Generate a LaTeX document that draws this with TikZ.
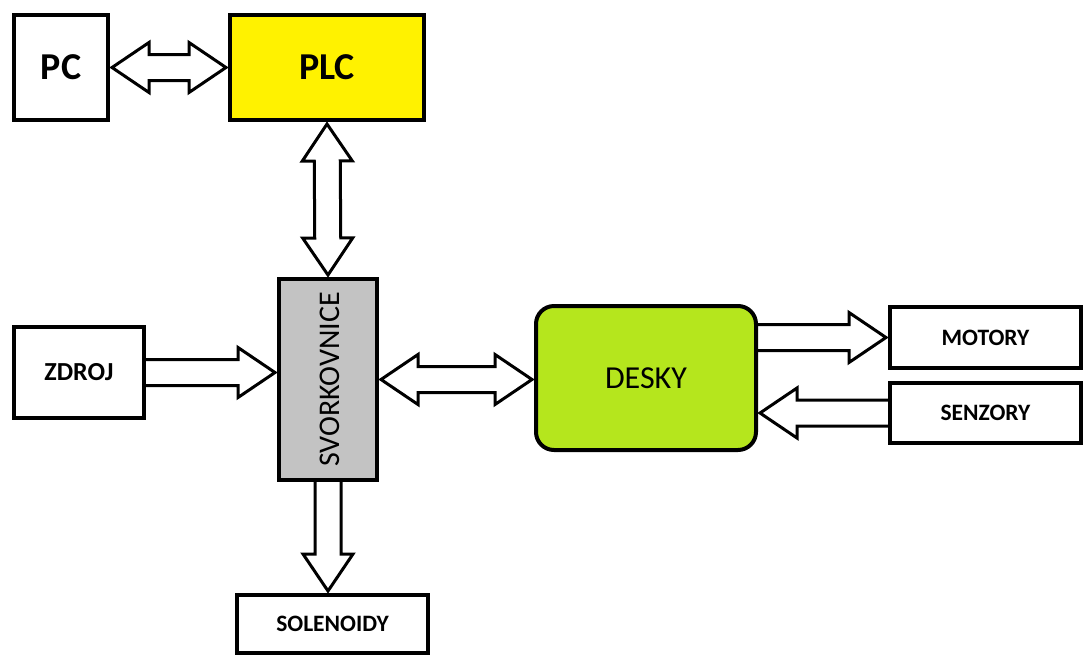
\documentclass[tikz,border=0pt]{standalone}
\usepackage{fontspec}
\setmainfont{Carlito}
\usetikzlibrary{calc}

\definecolor{plcyellow}{HTML}{FFF200}
\definecolor{svgrey}{HTML}{C3C3C3}
\definecolor{deskgreen}{HTML}{B5E61D}

\tikzset{
  box/.style={draw, line width=4pt, inner sep=0pt, fill=white},
  blk/.style={draw, line width=3pt, line join=miter},
}

% block arrow, one head (tip at #2)
\newcommand{\blkone}[2]{%
  \coordinate (ba) at (#1);
  \coordinate (bb) at ($(#2)!2pt!(#1)$);
  \coordinate (bc) at ($(bb)!37pt!(ba)$);
  \draw[blk] ($(ba)!13pt!90:(bb)$) -- ($(bc)!13pt!90:(bb)$) -- ($(bc)!25pt!90:(bb)$) -- (bb)
     -- ($(bc)!25pt!-90:(bb)$) -- ($(bc)!13pt!-90:(bb)$) -- ($(ba)!13pt!-90:(bb)$);
}
% block arrow, two heads
\newcommand{\blktwo}[2]{%
  \coordinate (ba) at ($(#1)!2pt!(#2)$);
  \coordinate (bb) at ($(#2)!2pt!(#1)$);
  \coordinate (bc) at ($(ba)!37pt!(bb)$);
  \coordinate (bd) at ($(bb)!37pt!(ba)$);
  \draw[blk] (ba) -- ($(bc)!25pt!90:(bb)$) -- ($(bc)!13pt!90:(bb)$) -- ($(bd)!13pt!90:(bb)$)
     -- ($(bd)!25pt!90:(bb)$) -- (bb) -- ($(bd)!25pt!-90:(bb)$) -- ($(bd)!13pt!-90:(bb)$)
     -- ($(bc)!13pt!-90:(bb)$) -- ($(bc)!25pt!-90:(bb)$) -- cycle;
}

\begin{document}
\begin{tikzpicture}[x=1pt,y=-1pt]
\useasboundingbox (0,0) rectangle (1085,657);

% blocks
\node[box, minimum width=94pt, minimum height=105pt, font=\bfseries\fontsize{38}{38}\selectfont] (pc) at (61,67.5) {PC};
\node[box, fill=plcyellow, minimum width=194pt, minimum height=105pt, font=\bfseries\fontsize{38}{38}\selectfont] (plc) at (327,67.5) {PLC};
\node[box, fill=svgrey, minimum width=98pt, minimum height=201pt] (svork) at (328,379.5) {};
\node[rotate=90, font=\fontsize{30}{30}\selectfont] (svtext) at ([xshift=2pt]svork.center) {SVORKOVNICE};
\node[box, minimum width=130pt, minimum height=91pt, font=\bfseries\fontsize{26}{26}\selectfont] (zdroj) at (79,372.5) {ZDROJ};
\node[box, fill=deskgreen, rounded corners=18pt, minimum width=220pt, minimum height=144pt, font=\fontsize{32}{32}\selectfont] (desky) at (646,378) {DESKY};
\node[box, minimum width=191pt, minimum height=61pt, font=\bfseries\fontsize{23.5}{23.5}\selectfont] (motory) at (985.5,337.5) {MOTORY};
\node[box, minimum width=191pt, minimum height=60pt, font=\bfseries\fontsize{23.5}{23.5}\selectfont] (senzory) at (985.5,413) {SENZORY};
\node[box, minimum width=191pt, minimum height=58pt, font=\bfseries\fontsize{23.5}{23.5}\selectfont] (solenoidy) at (332.5,624) {SOLENOIDY};

% block arrows
\blktwo{pc.east}{plc.west}
\blktwo{plc.south}{svork.north}
\blkone{zdroj.east}{zdroj.east -| svork.west}
\blktwo{svork.east}{svork.east -| desky.west}
\blkone{motory.west -| desky.east}{motory.west}
\blkone{senzory.west}{senzory.west -| desky.east}
\blkone{svork.south}{svork.south |- solenoidy.north}
\end{tikzpicture}
\end{document}
